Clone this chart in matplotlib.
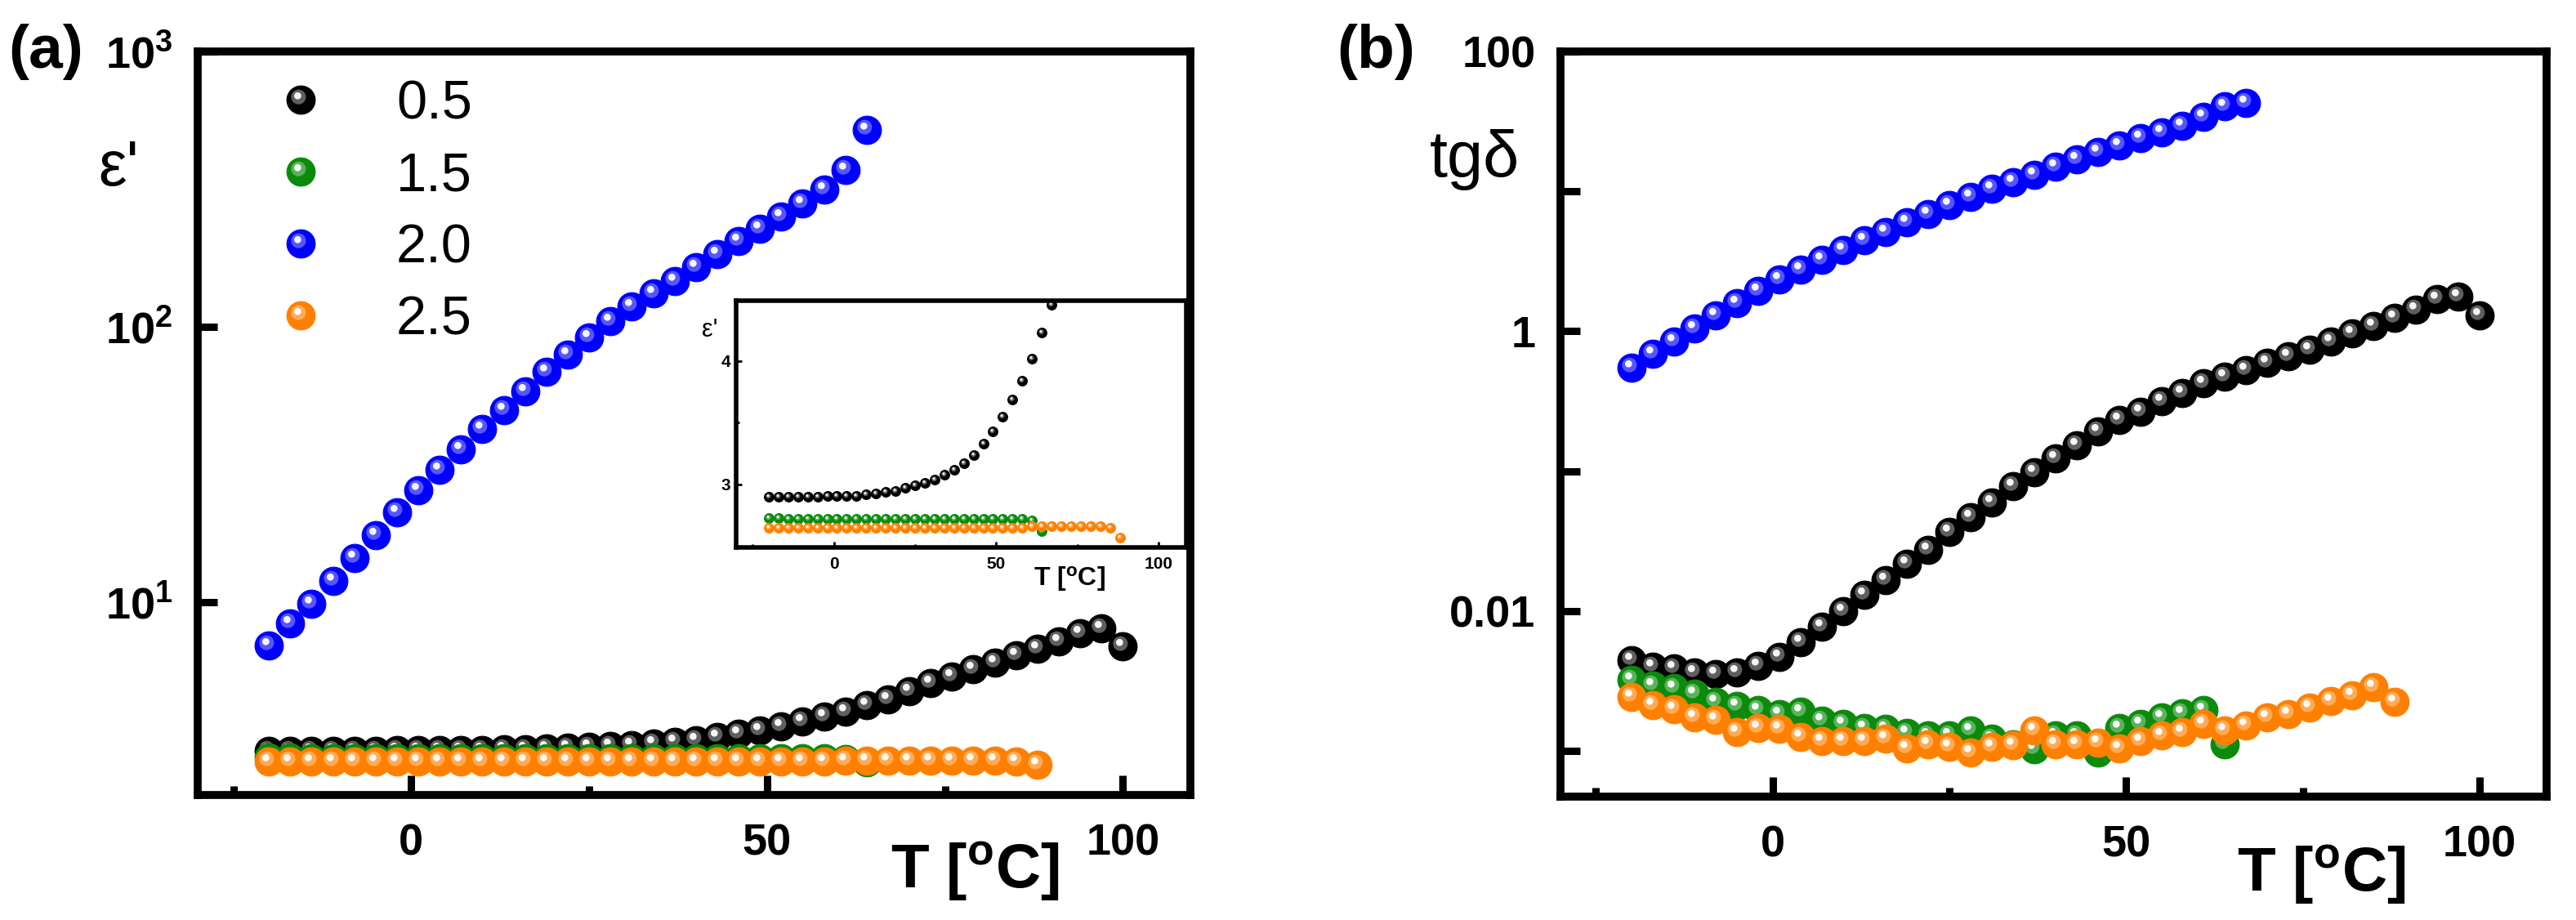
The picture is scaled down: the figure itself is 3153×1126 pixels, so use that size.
import matplotlib
matplotlib.use("Agg")
import matplotlib.pyplot as plt
from matplotlib.path import Path
from matplotlib.ticker import NullLocator
from matplotlib.legend_handler import HandlerTuple

plt.rcParams['font.family'] = ['Liberation Sans', 'DejaVu Sans']
plt.rcParams['mathtext.fontset'] = 'custom'
plt.rcParams['mathtext.rm'] = 'Liberation Sans'
plt.rcParams['mathtext.bf'] = 'Liberation Sans:bold'
plt.rcParams['mathtext.it'] = 'Liberation Sans:italic'

# temperature points [degC], step 3
T = [-20, -17, -14, -11, -8, -5, -2, 1, 4, 7, 10, 13, 16, 19, 22, 25, 28, 31,
     34, 37, 40, 43, 46, 49, 52, 55, 58, 61, 64, 67, 70, 73, 76, 79, 82, 85,
     88, 91, 94, 97, 100]

labels = ["0.5", "1.5", "2.0", "2.5"]
colors = ["#000000", "#0b8a0b", "#0000ff", "#ff8000"]
glows = ["#a0a0a0", "#8fd08f", "#9090ff", "#ffc890"]

# (a) real permittivity eps'
eps_05 = [2.90, 2.90, 2.90, 2.90, 2.90, 2.90, 2.91, 2.91, 2.91, 2.91, 2.92,
          2.93, 2.94, 2.95, 2.97, 2.99, 3.01, 3.04, 3.08, 3.12, 3.17, 3.24,
          3.33, 3.43, 3.55, 3.69, 3.84, 4.02, 4.23, 4.46, 4.75, 5.10, 5.40,
          5.72, 6.05, 6.41, 6.78, 7.21, 7.73, 8.04, 6.92]
eps_15 = [2.73, 2.73, 2.72, 2.72, 2.72, 2.72, 2.72, 2.72, 2.72, 2.72, 2.72,
          2.72, 2.72, 2.72, 2.72, 2.72, 2.72, 2.72, 2.72, 2.72, 2.72, 2.72,
          2.72, 2.72, 2.72, 2.72, 2.72, 2.71, 2.62]
eps_20 = [7.0, 8.4, 9.9, 12.0, 14.5, 17.6, 21.3, 25.6, 30.3, 36.0, 42.7, 50.0,
          58.6, 68.7, 79.6, 91.4, 105, 119, 133, 147, 165, 184, 205, 228, 252,
          281, 315, 371, 519]
eps_25 = [2.65, 2.65, 2.65, 2.65, 2.65, 2.65, 2.65, 2.65, 2.65, 2.65, 2.65,
          2.65, 2.65, 2.65, 2.65, 2.65, 2.65, 2.65, 2.65, 2.65, 2.65, 2.65,
          2.65, 2.65, 2.65, 2.65, 2.65, 2.665, 2.665, 2.665, 2.665, 2.665,
          2.665, 2.665, 2.665, 2.65, 2.57]

# (b) loss tangent tg(delta)
tg_05 = [0.00447, 0.00398, 0.00389, 0.00363, 0.00355, 0.00363, 0.00407,
         0.00468, 0.00603, 0.00776, 0.0100, 0.0130, 0.0167, 0.0218, 0.0274,
         0.0366, 0.0469, 0.0600, 0.0785, 0.0982, 0.123, 0.154, 0.193, 0.231,
         0.264, 0.316, 0.361, 0.423, 0.472, 0.528, 0.592, 0.662, 0.740, 0.847,
         0.968, 1.094, 1.242, 1.419, 1.698, 1.778, 1.297]
tg_15 = [0.00321, 0.00293, 0.00281, 0.00256, 0.00224, 0.00210, 0.00196,
         0.00184, 0.00192, 0.00164, 0.00157, 0.00147, 0.00144, 0.00134,
         0.00129, 0.00129, 0.00140, 0.00123, 0.00112, 0.00103, 0.00129,
         0.00129, 0.00098, 0.00147, 0.00157, 0.00175, 0.00187, 0.00196,
         0.00112]
tg_20 = [0.55, 0.69, 0.85, 1.05, 1.29, 1.58, 1.95, 2.34, 2.75, 3.24, 3.80,
         4.47, 5.13, 6.03, 6.92, 7.94, 9.12, 10.5, 11.7, 13.2, 15.1, 17.0,
         19.1, 21.4, 24.0, 26.3, 29.5, 33.9, 40.7, 42.7]
tg_25 = [0.00245, 0.00214, 0.00200, 0.00175, 0.00167, 0.00137, 0.00147,
         0.00144, 0.00126, 0.00117, 0.00117, 0.00117, 0.00123, 0.00105,
         0.00112, 0.00107, 0.00098, 0.00107, 0.00110, 0.00140, 0.00112,
         0.00112, 0.00115, 0.00105, 0.00117, 0.00129, 0.00137, 0.00157,
         0.00140, 0.00153, 0.00175, 0.00184, 0.00205, 0.00229, 0.00251,
         0.00286, 0.00224]

eps = [eps_05, eps_15, eps_20, eps_25]
tg = [tg_05, tg_15, tg_20, tg_25]

# shiny ball look: base disc + soft glow + white spot (offset up-left)
box = Path([(-1, -1), (1, 1)], [Path.MOVETO, Path.MOVETO])
glow_mk = Path.make_compound_path(box, Path.circle((-0.18, 0.22), 0.52))
spot_mk = Path.make_compound_path(box, Path.circle((-0.24, 0.3), 0.25))


def balls(ax, x, y, i, ms):
    base, = ax.plot(x, y, ls="none", marker="o", ms=ms, mfc=colors[i],
                    mec=colors[i], mew=0.8)
    glow, = ax.plot(x, y, ls="none", marker=glow_mk, ms=ms, mfc=glows[i],
                    mec="none", alpha=0.6)
    spot, = ax.plot(x, y, ls="none", marker=spot_mk, ms=ms, mfc="white",
                    mec="none", alpha=0.95)
    return (base, glow, spot)


def frame(ax):
    for s in ax.spines.values():
        s.set_linewidth(7)
    ax.set_xlim(-30, 109.5)
    ax.set_xticks([0, 50, 100])
    ax.set_xticks([-25, 25, 75], minor=True)
    ax.yaxis.set_minor_locator(NullLocator())
    ax.tick_params(which="both", direction="in", width=6.5)
    ax.tick_params(which="major", length=17)
    ax.tick_params(which="minor", length=8)
    ax.tick_params(axis="x", labelsize=39, pad=25)
    ax.tick_params(axis="y", labelsize=39, pad=22)


fig = plt.figure(figsize=(31.53, 11.26), dpi=100)

# ---------------- (a) ----------------
ax_a = fig.add_axes([0.0768, 0.1359, 0.3853, 0.808])
handles = []
for i in range(4):
    n = len(eps[i])
    handles.append(balls(ax_a, T[:n], eps[i], i, 25))
ax_a.set_yscale("log")
ax_a.set_ylim(2.0, 1000)
frame(ax_a)
ax_a.set_yticks([10, 100, 1000],
                [r"$\mathbf{10^{1}}$", r"$\mathbf{10^{2}}$", r"$\mathbf{10^{3}}$"])
ax_a.yaxis.set_minor_locator(NullLocator())
for lab in ax_a.get_xticklabels():
    lab.set_fontweight("bold")
ax_a.text(0.783, -0.103, r"$\mathbf{T\ [^{o}C]}$", transform=ax_a.transAxes,
          ha="center", va="center", fontsize=55)
ax_a.text(-0.080, 0.842, "ε'", transform=ax_a.transAxes, ha="center",
          va="center", fontsize=56)
ax_a.legend(handles, labels, loc="upper left", bbox_to_anchor=(0.0765, 0.962),
            frameon=False, fontsize=48, handlelength=1.0, handletextpad=1.25,
            labelspacing=0.39, borderpad=0, borderaxespad=0,
            handler_map={tuple: HandlerTuple(ndivide=1)})

# inset with linear eps'
ax_in = fig.add_axes([0.2858, 0.4050, 0.1748, 0.2682])
for i in [0, 1, 3]:
    n = len(eps[i])
    balls(ax_in, T[:n], eps[i], i, 8.5)
for s in ax_in.spines.values():
    s.set_linewidth(4)
ax_in.set_xlim(-30, 108.5)
ax_in.set_ylim(2.49, 4.49)
ax_in.set_xticks([0, 50, 100])
ax_in.set_xticks([-25, 25, 75], minor=True)
ax_in.set_yticks([3, 4])
ax_in.set_yticks([3.5], minor=True)
ax_in.tick_params(which="both", direction="in", width=2, length=5)
ax_in.tick_params(which="minor", length=3)
ax_in.tick_params(axis="x", labelsize=15, pad=8)
ax_in.tick_params(axis="y", labelsize=15, pad=5)
for lab in ax_in.get_xticklabels() + ax_in.get_yticklabels():
    lab.set_fontweight("bold")
ax_in.text(0.74, -0.126, r"$\mathbf{T\ [^{o}C]}$", transform=ax_in.transAxes,
           ha="center", va="center", fontsize=23)
ax_in.text(-0.058, 0.881, "ε'", transform=ax_in.transAxes, ha="center",
           va="center", fontsize=22)

# ---------------- (b) ----------------
ax_b = fig.add_axes([0.6058, 0.1341, 0.3828, 0.810])
for i in range(4):
    n = len(tg[i])
    balls(ax_b, T[:n], tg[i], i, 25)
ax_b.set_yscale("log")
ax_b.set_ylim(4.72e-4, 100)
frame(ax_b)
ax_b.set_yticks([1e-3, 1e-2, 1e-1, 1, 10, 100],
                ["", "0.01", "", "1", "", "100"])
ax_b.yaxis.set_minor_locator(NullLocator())
for lab in ax_b.get_xticklabels() + ax_b.get_yticklabels():
    lab.set_fontweight("bold")
ax_b.text(0.772, -0.105, r"$\mathbf{T\ [^{o}C]}$", transform=ax_b.transAxes,
          ha="center", va="center", fontsize=55)
ax_b.text(-0.087, 0.855, "tgδ", transform=ax_b.transAxes, ha="center",
          va="center", fontsize=57)

fig.text(0.0178, 0.944, "(a)", ha="center", va="center", fontsize=54,
         fontweight="bold")
fig.text(0.534, 0.944, "(b)", ha="center", va="center", fontsize=54,
         fontweight="bold")

fig.savefig("out.png", dpi=100)
